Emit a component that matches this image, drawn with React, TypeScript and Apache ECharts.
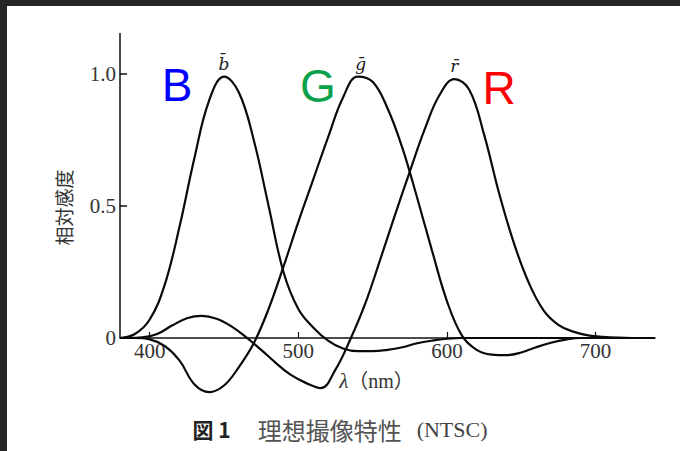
import React, { useEffect, useRef } from 'react';
import * as echarts from 'echarts';

// wavelength grid (nm) for b̄ and ḡ
const wavelengths = [
  380, 390, 400, 410, 420, 430, 440, 450, 460, 470,
  480, 490, 500, 510, 520, 530, 540, 550, 560, 570,
  580, 590, 600, 610, 620, 630, 640, 650, 660, 670,
  680, 690, 700, 710, 720, 730, 740,
];

// b̄ sensitivity
const bBar = [
  0, 0.015, 0.07, 0.2, 0.42, 0.68, 0.9, 0.99, 0.93, 0.75,
  0.5, 0.25, 0.11, 0.04, -0.01, -0.04, -0.05, -0.05, -0.045, -0.035,
  -0.02, -0.01, -0.003, 0, 0, 0, 0, 0, 0, 0,
  0, 0, 0, 0, 0, 0, 0,
];

// ḡ sensitivity
const gBar = [
  0, 0, -0.005, -0.03, -0.085, -0.175, -0.205, -0.18, -0.11, -0.02,
  0.11, 0.27, 0.44, 0.6, 0.76, 0.91, 0.99, 0.97, 0.87, 0.72,
  0.53, 0.33, 0.14, 0.01, -0.045, -0.063, -0.065, -0.055, -0.035, -0.018,
  -0.006, 0, 0, 0, 0, 0, 0,
];

// wavelength grid (nm) for r̄ (read at the odd 5s, so its peak is sampled)
const rWavelengths = [
  380, 385, 395, 405, 415, 425, 435, 445, 455, 465,
  475, 485, 495, 505, 515, 525, 535, 545, 555, 565,
  575, 585, 595, 605, 615, 625, 635, 645, 655, 665,
  675, 685, 695, 705, 715, 725, 735, 740,
];

// r̄ sensitivity
const rBar = [
  0, 0, 0.002, 0.015, 0.047, 0.075, 0.084, 0.073, 0.044, 0.002,
  -0.045, -0.095, -0.14, -0.17, -0.19, -0.12, -0.005, 0.13, 0.295, 0.465,
  0.63, 0.79, 0.92, 0.98, 0.94, 0.77, 0.55, 0.36, 0.21, 0.105,
  0.05, 0.024, 0.01, 0.004, 0.001, 0, 0, 0,
];

const yTicks = [0, 0.5, 1.0];
const xTicks = [400, 500, 600, 700];

const peakLabels = ['b\u0304', '\u1E21', 'r\u0304'];
const peakWavelengths = [450, 542, 605];
const peakValues = [0.99, 0.99, 0.98];

const channelLetters = ['B', 'G', 'R'];
const channelColors = ['#0000FF', '#0BA14B', '#FF0000'];

const X_MIN = 380;
const X_MAX = 740;
const Y_MIN = -0.25;
const Y_MAX = 1.155;

const GRID_TOP = 33;
const GRID_BOTTOM = 47;
const CHART_H = 451;

export default function App() {
  const ref = useRef<HTMLDivElement>(null);

  useEffect(() => {
    document.body.style.margin = '0';
    if (!ref.current) return;
    const chart = echarts.init(ref.current, undefined, { renderer: 'svg' });

    const curves = [
      { xs: wavelengths, ys: bBar },
      { xs: wavelengths, ys: gBar },
      { xs: rWavelengths, ys: rBar },
    ];
    const letterPos = [
      [177, 85],
      [318, 86],
      [499, 88],
    ];

    // move the x axis up from the grid bottom to the y = 0 line
    const gridH = CHART_H - GRID_TOP - GRID_BOTTOM;
    const zeroOffset = -((0 - Y_MIN) / (Y_MAX - Y_MIN)) * gridH;

    const series: any[] = curves.map((c, i) => ({
      type: 'line',
      name: peakLabels[i],
      data: c.xs.map((w, j) => [w, c.ys[j]]),
      smooth: 0.4,
      symbol: 'none',
      lineStyle: { color: '#0a0a0a', width: 2.2 },
      emphasis: { disabled: true },
      silent: true,
      markPoint: {
        symbol: 'circle',
        symbolSize: 1,
        silent: true,
        itemStyle: { color: 'rgba(0,0,0,0)' },
        label: {
          show: true,
          position: 'top',
          distance: 4,
          formatter: peakLabels[i],
          fontFamily: 'DejaVu Serif',
          fontStyle: 'italic',
          fontSize: 17,
          color: '#222',
        },
        data: [{ coord: [peakWavelengths[i], peakValues[i]] }],
      },
      ...(i === 0
        ? {
            markLine: {
              silent: true,
              symbol: ['none', 'none'],
              label: { show: false },
              lineStyle: { color: '#111', width: 1.5, type: 'solid' },
              data: [[{ coord: [X_MIN, 0] }, { coord: [X_MIN, Y_MAX] }]],
            },
          }
        : {}),
    }));

    chart.setOption({
      animation: false,
      backgroundColor: '#ffffff',
      title: {
        text: '{a|図 1} {b|理想撮像特性} {c|(NTSC)}',
        left: 'center',
        top: 412,
        textStyle: {
          fontWeight: 'normal',
          rich: {
            a: {
              fontFamily: 'Noto Sans CJK JP',
              fontWeight: 'bold',
              fontSize: 21,
              color: '#222',
              padding: [0, 14, 0, 0],
            },
            b: {
              fontFamily: 'Noto Sans CJK JP',
              fontWeight: 'normal',
              fontSize: 24,
              color: '#555',
              padding: [0, 10, 0, 8],
            },
            c: {
              fontFamily: 'Liberation Serif',
              fontWeight: 'normal',
              fontSize: 22,
              color: '#444',
            },
          },
        },
      },
      grid: {
        left: 120,
        right: 25,
        top: GRID_TOP,
        bottom: GRID_BOTTOM,
        containLabel: false,
        outerBoundsMode: 'none',
      },
      xAxis: {
        type: 'value',
        min: X_MIN,
        max: X_MAX,
        offset: zeroOffset,
        axisLine: { onZero: false, lineStyle: { color: '#111', width: 1.5 } },
        axisTick: {
          show: true,
          inside: true,
          length: 6,
          customValues: xTicks,
          lineStyle: { color: '#111', width: 1.2 },
        },
        axisLabel: {
          customValues: xTicks,
          margin: 3,
          fontFamily: 'Liberation Serif',
          fontSize: 21,
          color: '#333',
        },
        splitLine: { show: false },
        name: '{i|λ}（nm）',
        nameLocation: 'middle',
        nameGap: 33,
        nameTextStyle: {
          fontFamily: "'Liberation Serif', 'Noto Sans CJK JP'",
          fontSize: 20,
          color: '#333',
          padding: [0, 22, 0, 0],
          rich: {
            i: {
              fontFamily: 'Liberation Serif',
              fontStyle: 'italic',
              fontSize: 21,
              color: '#333',
            },
          },
        },
      },
      yAxis: {
        type: 'value',
        min: Y_MIN,
        max: Y_MAX,
        axisLine: { show: false },
        splitLine: { show: false },
        axisTick: {
          show: true,
          inside: true,
          length: 7,
          customValues: yTicks,
          lineStyle: { color: '#111', width: 1.5 },
        },
        axisLabel: {
          customValues: yTicks,
          margin: 4,
          formatter: (v: number) => (v === 0 ? '0' : v.toFixed(1)),
          fontFamily: 'Liberation Serif',
          fontSize: 21,
          color: '#333',
        },
        name: '相対感度',
        nameLocation: 'middle',
        nameGap: 47,
        nameRotate: 90,
        nameTextStyle: {
          fontFamily: 'Noto Sans CJK JP',
          fontSize: 19,
          color: '#333',
          padding: [0, 0, 0, 22],
        },
      },
      series,
      graphic: [
        {
          type: 'rect',
          silent: true,
          shape: { x: 0, y: 0, width: 680, height: 6 },
          style: { fill: '#262626' },
        },
        {
          type: 'rect',
          silent: true,
          shape: { x: 0, y: 0, width: 7, height: 451 },
          style: { fill: '#262626' },
        },
        ...channelLetters.map((t, i) => ({
          type: 'text',
          silent: true,
          x: letterPos[i][0],
          y: letterPos[i][1],
          style: {
            text: t,
            fill: channelColors[i],
            fontFamily: 'Liberation Sans',
            fontSize: 46,
            align: 'center',
            verticalAlign: 'middle',
          },
        })),
      ],
    });

    return () => chart.dispose();
  }, []);

  return <div ref={ref} style={{ width: 680, height: 451 }} />;
}
